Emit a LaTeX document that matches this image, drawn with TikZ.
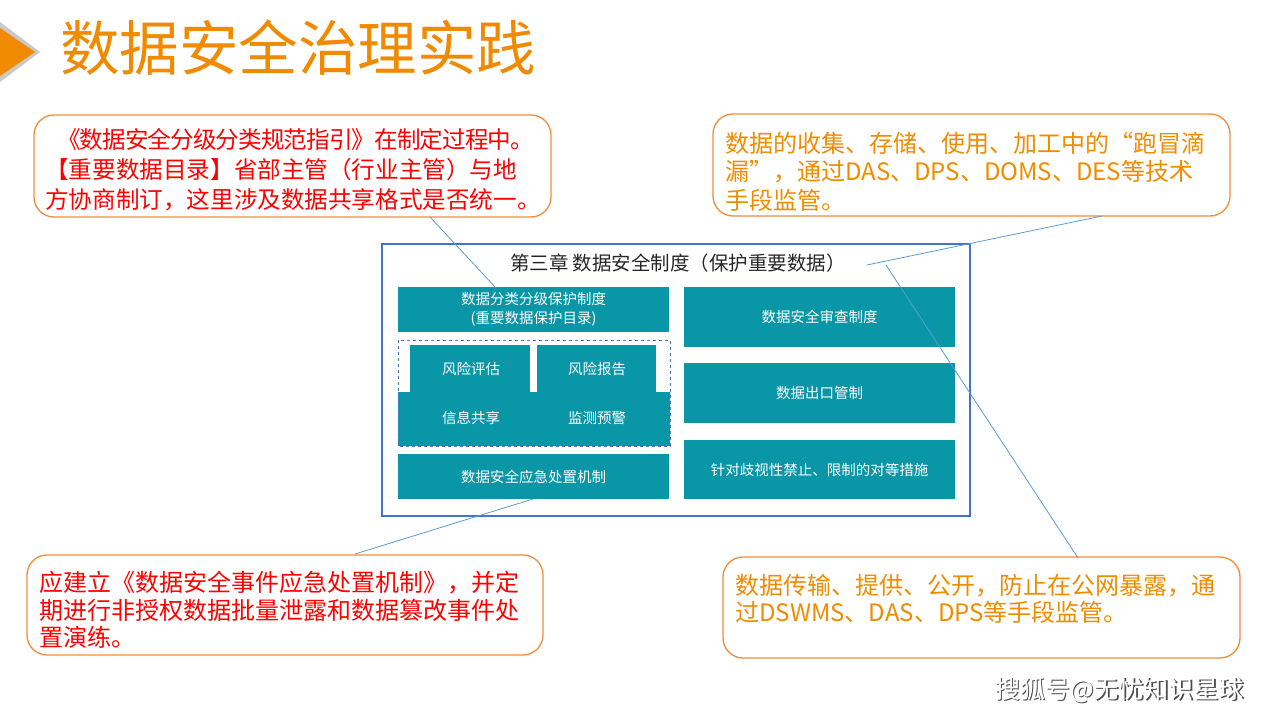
\documentclass[tikz,border=0pt]{standalone}
\usepackage{fontspec}
\setmainfont{Noto Sans CJK SC}
\newfontfamily\tightfont[LetterSpace=-4]{Noto Sans CJK SC}
\usetikzlibrary{calc}
\definecolor{tealc}{RGB}{9,150,166}
\definecolor{titleor}{RGB}{240,138,0}
\definecolor{textor}{RGB}{240,140,0}
\definecolor{calloutor}{RGB}{240,140,60}
\definecolor{redc}{RGB}{255,0,0}
\definecolor{boxblue}{RGB}{68,114,196}
\definecolor{linkblue}{RGB}{91,155,213}
\definecolor{shadowgray}{RGB}{200,200,200}
\begin{document}
\begin{tikzpicture}[x=1pt,y=-1pt,
  tbox/.style={fill=tealc,text=white,inner sep=0pt,align=center,font=\fontsize{14.5}{19}\selectfont},
  tlabel/.style={text=white,inner sep=0pt,font=\fontsize{14.5}{19}\selectfont},
  callout/.style={draw=calloutor,line width=1.3pt,fill=white,rounded corners=20pt,inner sep=0pt},
  ctext/.style={inner sep=0pt,align=left,anchor=west},
  link/.style={draw=linkblue,line width=0.8pt}]
\useasboundingbox (0,0) rectangle (1280,720);
% title arrow
\fill[shadowgray] (0,22) -- (40,52) -- (0,82) -- cycle;
\fill[titleor] (0,28) -- (35,52) -- (0,76) -- cycle;
\node[anchor=west,inner sep=0pt,text=titleor,font=\fontsize{59.5}{60}\selectfont] (title) at (60,47.5) {数据安全治理实践};
% main box
\node[draw=boxblue,line width=2.5pt,minimum width=588pt,minimum height=272pt,inner sep=0pt] (main) at (676,380) {};
\node[inner sep=0pt,text=black!85,font=\fontsize{19.5}{20}\selectfont] (chap) at (678,263) {第三章\ 数据安全制度（保护重要数据）};
% left column
\node[tbox,minimum width=271pt,minimum height=45pt] (cls) at (533.5,309.5) {数据分类分级保护制度\\(重要数据保护目录)};
\node[tbox,minimum width=272pt,minimum height=54pt] (band) at (534,419) {};
\node[tbox,minimum width=120pt,minimum height=50pt] (risk1) at (470,369.5) {};
\node[tbox,minimum width=119pt,minimum height=50pt] (risk2) at (596.5,369.5) {};
\node[tlabel] (l1) at (471,369) {风险评估};
\node[tlabel] (l2) at (597,369) {风险报告};
\node[tlabel] (l3) at (471,418) {信息共享};
\node[tlabel] (l4) at (597,418) {监测预警};
\draw[boxblue,dashed,line width=0.9pt] (398,340) rectangle (670,446);
\node[tbox,minimum width=271pt,minimum height=45pt] (emer) at (533.5,476.5) {数据安全应急处置机制};
% right column
\node[tbox,minimum width=271pt,minimum height=60pt] (rev) at (819.5,317) {数据安全审查制度};
\node[tbox,minimum width=271pt,minimum height=60pt] (exp) at (819.5,393) {数据出口管制};
\node[tbox,minimum width=271pt,minimum height=59pt] (anti) at (819.5,469.5) {针对歧视性禁止、限制的对等措施};
% callouts
\node[callout,minimum width=517pt,minimum height=102pt] (tl) at (292.5,166) {};
\node[ctext,text=redc,font=\fontsize{23.6}{30}\selectfont] (tlt) at (45,170) {{\tightfont\hspace{12pt}《数据安全分级分类规范指引》在制定过程中。}\\【重要数据目录】省部主管（行业主管）与地\\方协商制订，这里涉及数据共享格式是否统一。};
\node[callout,minimum width=517pt,minimum height=102pt] (tr) at (971.5,165) {};
\node[ctext,text=textor,font=\fontsize{24}{28.5}\selectfont] (trt) at (725,171.5) {数据的收集、存储、使用、加工中的“跑冒滴\\漏”，通过DAS、DPS、DOMS、DES等技术\\手段监管。};
\node[callout,minimum width=516pt,minimum height=100pt] (bl) at (285,605) {};
\node[ctext,text=redc,font=\fontsize{24}{27.5}\selectfont] (blt) at (39,610) {应建立《数据安全事件应急处置机制》，并定\\期进行非授权数据批量泄露和数据篡改事件处\\置演练。};
\node[callout,minimum width=517pt,minimum height=101pt] (br) at (981.5,607.5) {};
\node[ctext,text=textor,font=\fontsize{24}{27}\selectfont] (brt) at (735,598.5) {数据传输、提供、公开，防止在公网暴露，通\\过DSWMS、DAS、DPS等手段监管。};
% connectors
\coordinate (a1) at (430,217);
\coordinate (a2) at (496,288);
\coordinate (b1) at (1102,216);
\coordinate (b2) at (867,265);
\coordinate (c1) at (886,265);
\coordinate (c2) at (1078,558);
\coordinate (d1) at (533,499);
\coordinate (d2) at (355,554);
\draw[link] (a1) -- (a2);
\draw[link] (b1) -- (b2);
\draw[link] (c1) -- (c2);
\draw[link] (d1) -- (d2);
% watermark
\node[anchor=west,inner sep=0pt,text=black!70,font=\fontsize{25}{26}\selectfont] (wms) at (996.5,691.5) {搜狐号@无忧知识星球};
\node[anchor=west,inner sep=0pt,text=white,font=\fontsize{25}{26}\selectfont] (wm) at (995,690) {搜狐号@无忧知识星球};
\end{tikzpicture}
\end{document}
